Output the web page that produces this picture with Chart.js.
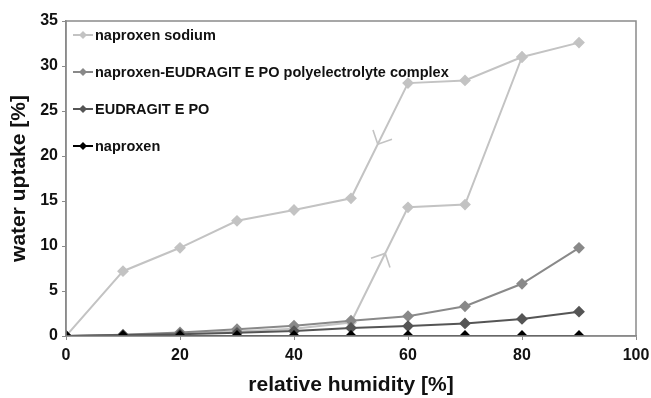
<!DOCTYPE html>
<html>
<head>
<meta charset="utf-8">
<script src="https://cdn.jsdelivr.net/npm/chart.js@4.4.1/dist/chart.umd.min.js"></script>
<style>
html, body { margin: 0; padding: 0; background: #fff; }
#wrap { width: 651px; height: 398px; position: relative; }
</style>
</head>
<body>
<div id="wrap"><canvas id="myChart"></canvas></div>
<script>
// relative humidity steps, sorption goes up, desorption comes back down
const humidity = [0, 10, 20, 30, 40, 50, 60, 70, 80, 90]
const humidityBack = [80, 70, 60, 50, 40, 30, 20, 10, 0]

// water uptake [%]
const sodiumSorption = [0, 0.1, 0.3, 0.5, 0.8, 1.5, 14.3, 14.6, 31.0, 32.6]
const sodiumDesorption = [31.0, 28.4, 28.1, 15.3, 14.0, 12.8, 9.8, 7.2, 0]
const complexUptake = [0, 0.15, 0.4, 0.75, 1.15, 1.7, 2.2, 3.3, 5.8, 9.8]
const eudragitUptake = [0, 0.1, 0.2, 0.35, 0.55, 0.9, 1.1, 1.4, 1.9, 2.7]
const naproxenUptake = [0, 0, 0, 0, 0, 0, 0, 0, 0, 0]

const seriesNames = [
    'naproxen sodium',
    'naproxen-EUDRAGIT E PO polyelectrolyte complex',
    'EUDRAGIT E PO',
    'naproxen'
]
const seriesColors = ['#c3c3c3', '#898989', '#555555', '#000000']

const xTicks = [0, 20, 40, 60, 80, 100]
const yTicks = [0, 5, 10, 15, 20, 25, 30, 35]

// direction arrows on the naproxen sodium loop (segment start/end index, position along it)
const sorptionArrow = { from: 5, to: 6, at: 0.6 }
const desorptionArrow = { from: 3, to: 4, at: 0.53 }

const toPoints = (xs, ys) => xs.map((x, i) => ({ x: x, y: ys[i] }))

const sodiumLoop = toPoints(humidity, sodiumSorption).concat(toPoints(humidityBack, sodiumDesorption))
const desorptionPts = [{ x: 90, y: sodiumSorption[9] }].concat(toPoints(humidityBack, sodiumDesorption))
const sorptionPts = toPoints(humidity, sodiumSorption)

const FONT = '"Liberation Sans", Arial, sans-serif'

const makeSet = (i, data, order) => ({
    label: seriesNames[i],
    data: data,
    borderColor: seriesColors[i],
    backgroundColor: seriesColors[i],
    borderWidth: 2,
    pointStyle: 'rectRot',
    pointRadius: 4.5,
    pointHoverRadius: 4.5,
    tension: 0,
    order: order
})

function drawArrow(ctx, xs, ys, p0, p1, t) {
    const x0 = xs.getPixelForValue(p0.x), y0 = ys.getPixelForValue(p0.y)
    const x1 = xs.getPixelForValue(p1.x), y1 = ys.getPixelForValue(p1.y)
    const tx = x0 + (x1 - x0) * t, ty = y0 + (y1 - y0) * t
    const back = Math.atan2(y0 - y1, x0 - x1)
    const len = 15
    ctx.beginPath()
    ctx.moveTo(tx + Math.cos(back - Math.PI / 4) * len, ty + Math.sin(back - Math.PI / 4) * len)
    ctx.lineTo(tx, ty)
    ctx.lineTo(tx + Math.cos(back + Math.PI / 4) * len, ty + Math.sin(back + Math.PI / 4) * len)
    ctx.stroke()
}

const framePlugin = {
    id: 'frameAndLegend',
    afterDraw(chart) {
        const ctx = chart.ctx
        const area = chart.chartArea
        const xs = chart.scales.x, ys = chart.scales.y
        ctx.save()

        // box around the plot
        ctx.strokeStyle = '#8a8a8a'
        ctx.lineWidth = 1.5
        ctx.strokeRect(area.left, area.top, area.right - area.left, area.bottom - area.top)

        // arrows
        ctx.strokeStyle = seriesColors[0]
        ctx.lineWidth = 1.6
        drawArrow(ctx, xs, ys, sorptionPts[sorptionArrow.from], sorptionPts[sorptionArrow.to], sorptionArrow.at)
        drawArrow(ctx, xs, ys, desorptionPts[desorptionArrow.from], desorptionPts[desorptionArrow.to], desorptionArrow.at)

        // legend inside the plot, top left
        ctx.font = 'bold 14.5px ' + FONT
        ctx.textBaseline = 'middle'
        ctx.textAlign = 'left'
        seriesNames.forEach((name, i) => {
            const y = area.top + 14 + i * 37
            const lx = area.left + 7
            ctx.strokeStyle = seriesColors[i]
            ctx.fillStyle = seriesColors[i]
            ctx.lineWidth = 2
            ctx.beginPath()
            ctx.moveTo(lx, y)
            ctx.lineTo(lx + 20, y)
            ctx.stroke()
            ctx.beginPath()
            ctx.moveTo(lx + 10, y - 4)
            ctx.lineTo(lx + 14, y)
            ctx.lineTo(lx + 10, y + 4)
            ctx.lineTo(lx + 6, y)
            ctx.closePath()
            ctx.fill()
            ctx.fillStyle = '#111'
            ctx.fillText(name, lx + 22, y + 1)
        })
        ctx.restore()
    }
}

const ctx = document.getElementById('myChart').getContext('2d')

const chart = new Chart(ctx, {
    type: 'line',
    data: {
        datasets: [
            makeSet(0, sodiumLoop, 4),
            makeSet(1, toPoints(humidity, complexUptake), 3),
            makeSet(2, toPoints(humidity, eudragitUptake), 2),
            makeSet(3, toPoints(humidity, naproxenUptake), 1)
        ]
    },
    options: {
        responsive: true,
        maintainAspectRatio: false,
        animation: false,
        layout: { padding: { left: 0, right: 15, top: 21, bottom: 0 } },
        plugins: {
            legend: { display: false },
            tooltip: { enabled: false }
        },
        scales: {
            x: {
                type: 'linear',
                min: 0,
                max: 100,
                afterBuildTicks: (s) => { s.ticks = xTicks.map(v => ({ value: v })) },
                afterFit: (s) => { s.height = 62; s.paddingLeft = 0; s.paddingRight = 0 },
                ticks: { color: '#111', font: { family: FONT, size: 16, weight: 'bold' }, padding: 6, maxRotation: 0 },
                grid: { drawOnChartArea: false, color: '#8a8a8a', tickLength: 4 },
                border: { color: '#8a8a8a', width: 1.5 },
                title: {
                    display: true,
                    text: 'relative humidity [%]',
                    color: '#111',
                    font: { family: FONT, size: 21, weight: 'bold' },
                    padding: { top: 0, bottom: 0 }
                }
            },
            y: {
                min: 0,
                max: 35,
                afterBuildTicks: (s) => { s.ticks = yTicks.map(v => ({ value: v })) },
                afterFit: (s) => { s.width = 66; s.paddingTop = 0; s.paddingBottom = 0 },
                ticks: { color: '#111', font: { family: FONT, size: 16, weight: 'bold' }, padding: 4 },
                grid: { drawOnChartArea: false, color: '#8a8a8a', tickLength: 4 },
                border: { color: '#8a8a8a', width: 1.5 },
                title: {
                    display: true,
                    text: 'water uptake [%]',
                    color: '#111',
                    font: { family: FONT, size: 21, weight: 'bold' },
                    padding: { top: 7, bottom: 0 }
                }
            }
        }
    },
    plugins: [framePlugin]
})
</script>
</body>
</html>
